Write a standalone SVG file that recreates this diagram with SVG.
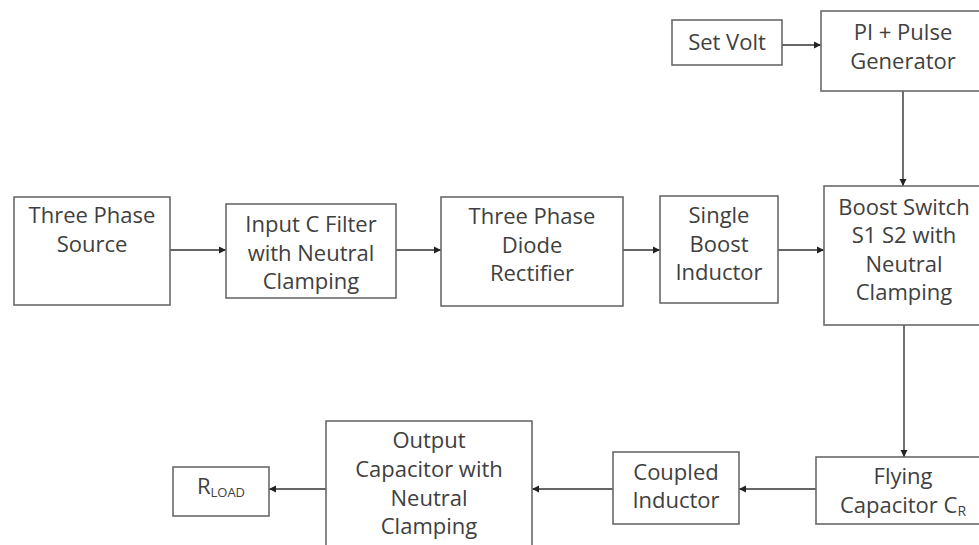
<svg xmlns="http://www.w3.org/2000/svg" width="979" height="545" viewBox="0 0 979 545">
<defs>
<marker id="ah" markerWidth="8" markerHeight="8" refX="7" refY="4" orient="auto" markerUnits="userSpaceOnUse">
<path d="M0,0.5 L7,4 L0,7.5 Z" fill="#222"/>
</marker>
<style>
.box{fill:#fff;stroke:#6a6a6a;stroke-width:1.6}
.t{font-family:"Open Sans","Liberation Sans",sans-serif;font-size:22px;fill:#404040;text-anchor:middle}
.c{stroke:#333;stroke-width:1.4;fill:none;marker-end:url(#ah)}
</style>
</defs>
<rect width="979" height="545" fill="#fff"/>
<g id="connectors">
<line class="c" x1="782" y1="45" x2="821" y2="45"/>
<line class="c" x1="903" y1="91" x2="903" y2="186"/>
<line class="c" x1="170" y1="250" x2="226" y2="250"/>
<line class="c" x1="396" y1="250" x2="441" y2="250"/>
<line class="c" x1="623" y1="250" x2="660" y2="250"/>
<line class="c" x1="778" y1="250" x2="824" y2="250"/>
<line class="c" x1="904" y1="325" x2="904" y2="457"/>
<line class="c" x1="816" y1="489" x2="739" y2="489"/>
<line class="c" x1="613" y1="489" x2="532" y2="489"/>
<line class="c" x1="326" y1="489" x2="269" y2="489"/>
</g>
<g id="set-volt">
<rect class="box" x="672" y="20" width="110" height="45"/>
<text class="t" x="727" y="50">Set Volt</text>
</g>
<g id="pi-pulse">
<rect class="box" x="821" y="11" width="170" height="80"/>
<text class="t" x="903" y="40">PI + Pulse</text>
<text class="t" x="903" y="69">Generator</text>
</g>
<g id="three-phase-source">
<rect class="box" x="14" y="197" width="156" height="108"/>
<text class="t" x="92" y="223">Three Phase</text>
<text class="t" x="92" y="252">Source</text>
</g>
<g id="input-c-filter">
<rect class="box" x="226" y="204" width="170" height="94"/>
<text class="t" x="311" y="232">Input C Filter</text>
<text class="t" x="311" y="261">with Neutral</text>
<text class="t" x="311" y="289">Clamping</text>
</g>
<g id="rectifier">
<rect class="box" x="441" y="197" width="182" height="109"/>
<text class="t" x="532" y="224">Three Phase</text>
<text class="t" x="532" y="253">Diode</text>
<text class="t" x="532" y="281">Rectifier</text>
</g>
<g id="single-boost-inductor">
<rect class="box" x="660" y="196" width="118" height="107"/>
<text class="t" x="719" y="223">Single</text>
<text class="t" x="719" y="252">Boost</text>
<text class="t" x="719" y="280">Inductor</text>
</g>
<g id="boost-switch">
<rect class="box" x="824" y="186" width="165" height="139"/>
<text class="t" x="904" y="215">Boost Switch</text>
<text class="t" x="904" y="243">S1 S2 with</text>
<text class="t" x="904" y="272">Neutral</text>
<text class="t" x="904" y="300">Clamping</text>
</g>
<g id="flying-capacitor">
<rect class="box" x="816" y="457" width="175" height="67"/>
<text class="t" x="903" y="484">Flying</text>
<text class="t" x="903" y="513">Capacitor C<tspan font-size="14" dy="3">R</tspan></text>
</g>
<g id="coupled-inductor">
<rect class="box" x="613" y="452" width="126" height="72"/>
<text class="t" x="676" y="480">Coupled</text>
<text class="t" x="676" y="508">Inductor</text>
</g>
<g id="output-capacitor">
<rect class="box" x="326" y="421" width="206" height="140"/>
<text class="t" x="429" y="448">Output</text>
<text class="t" x="429" y="477">Capacitor with</text>
<text class="t" x="429" y="506">Neutral</text>
<text class="t" x="429" y="534">Clamping</text>
</g>
<g id="r-load">
<rect class="box" x="173" y="467" width="96" height="49"/>
<text class="t" x="221" y="494">R<tspan font-size="13" dy="3">LOAD</tspan></text>
</g>
</svg>
